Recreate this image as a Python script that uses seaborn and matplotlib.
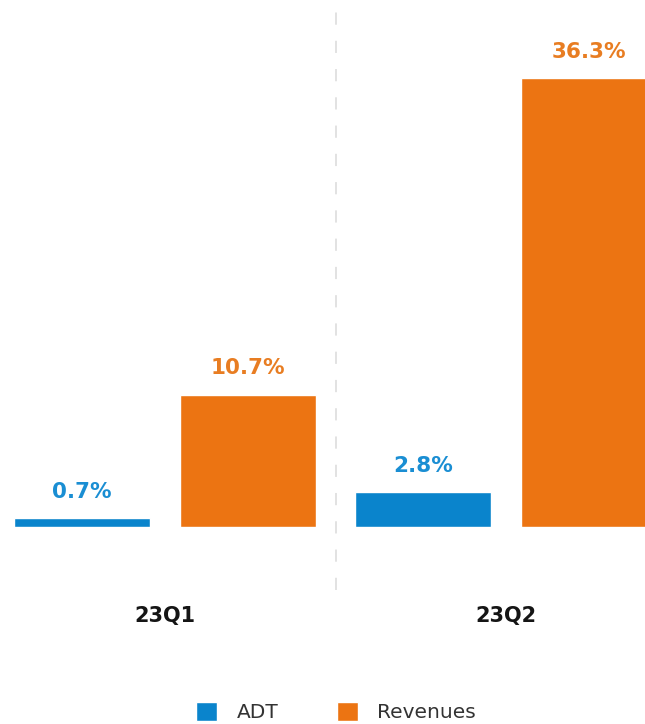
import matplotlib
matplotlib.use("Agg")
import matplotlib.pyplot as plt
import seaborn as sns
import pandas as pd

quarters = ["23Q1", "23Q2"]
metrics = ["ADT", "Revenues"]
adt_values = [0.7, 2.8]
revenue_values = [10.7, 36.3]

bar_colors = {"ADT": "#0a84cc", "Revenues": "#ec7412"}
label_colors = {"ADT": "#1a8ed3", "Revenues": "#e87d22"}

df = pd.DataFrame({
    "quarter": quarters * 2,
    "metric": [metrics[0]] * len(quarters) + [metrics[1]] * len(quarters),
    "value": adt_values + revenue_values,
})

sns.set_style("white")
plt.rcParams["font.family"] = ["DejaVu Sans"]

W, H = 645, 724
fig = plt.figure(figsize=(W / 100, H / 100), dpi=100)
base_px = 527
ax = fig.add_axes([0, (H - base_px) / H, 1, base_px / H])

sns.barplot(data=df, x="quarter", y="value", hue="metric", order=quarters,
            hue_order=metrics, palette=bar_colors, width=0.973, gap=0.18,
            ax=ax, legend=True, saturation=1)

px_per_unit = 12.36
ax.set_ylim(0, base_px / px_per_unit)
ax.set_xlim(-165 / 341, (W - 165) / 341)

for cont, m in zip(ax.containers, metrics):
    ax.bar_label(cont, labels=[f"{v:.1f}%" for v in cont.datavalues],
                 padding=12, color=label_colors[m], fontsize=15.5,
                 fontweight="bold")

ax.axvline(0.5, ymin=-(590 - base_px) / base_px, ymax=(base_px - 10) / base_px,
           color="#dadada", lw=1.1, dashes=(8, 10.5), clip_on=False, zorder=0)

ax.set_xlabel("")
ax.set_ylabel("")
ax.set_yticks([])
ax.tick_params(axis="x", length=0, pad=57, labelsize=15, colors="#151515")
for t in ax.get_xticklabels():
    t.set_fontweight("bold")
sns.despine(ax=ax, left=True, bottom=True)

handles, labels = ax.get_legend_handles_labels()
ax.legend(handles, labels, loc="center", bbox_to_anchor=(336 / W, 12 / H),
          bbox_transform=fig.transFigure, ncol=2, frameon=False,
          fontsize=14.5, handlelength=1.05, handleheight=1.05,
          handletextpad=0.95, columnspacing=2.9, labelcolor="#333333")

fig.savefig("out.png", dpi=100)
